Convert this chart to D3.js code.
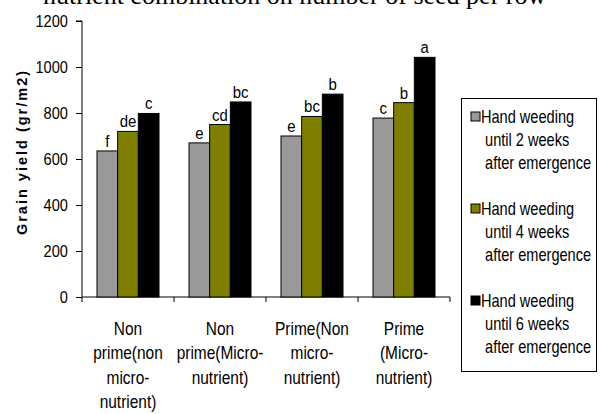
<!DOCTYPE html>
<html><head><meta charset="utf-8">
<script src="https://cdn.jsdelivr.net/npm/d3@7"></script>
<style>
body{margin:0;background:#fff;}
text{font-family:"Liberation Sans Narrow","Arial Narrow","Liberation Sans",Arial,sans-serif;}
</style></head>
<body><svg id="c" width="600" height="414"></svg>
<script>
const categories = [
  ["Non","prime(non","micro-","nutrient)"],
  ["Non","prime(Micro-","nutrient)"],
  ["Prime(Non","micro-","nutrient)"],
  ["Prime","(Micro-","nutrient)"]
];
const seriesNames = [
  ["Hand weeding","until 2 weeks","after emergence"],
  ["Hand weeding","until 4 weeks","after emergence"],
  ["Hand weeding","until 6 weeks","after emergence"]
];
const weeks2 = [635, 670, 700, 778];
const weeks4 = [720, 750, 785, 845];
const weeks6 = [798, 848, 882, 1042];
const letters2 = ["f","e","e","c"];
const letters4 = ["de","cd","bc","b"];
const letters6 = ["c","bc","b","a"];
const yTicks = [0,200,400,600,800,1000,1200];
const colors = ["#999999","#808000","#000000"];
const titleText = "nutrient combination on number of seed per row";

const series = [weeks2, weeks4, weeks6];
const letters = [letters2, letters4, letters6];

const svg = d3.select("#c");
const mLeft = 82, mRight = 450, mTop = 21, mBottom = 297;
const SX = 0.86;

svg.append("text").attr("x",43).attr("y",4)
  .style("font-family","'Liberation Serif','Times New Roman',serif")
  .style("font-size","26px").attr("fill","#000").text(titleText);

const x0 = d3.scaleBand().domain(d3.range(categories.length)).range([mLeft,mRight]).paddingInner(0).paddingOuter(0);
const x1 = d3.scaleBand().domain(d3.range(series.length)).range([15, x0.bandwidth()-15]);
const y = d3.scaleLinear().domain([0,1200]).range([mBottom,mTop]);

// y axis
const ya = svg.append("g").attr("transform",`translate(${mLeft},0)`)
  .call(d3.axisLeft(y).tickValues(yTicks).tickSize(6).tickPadding(6).tickFormat(d3.format("d")));
ya.select(".domain").attr("d",`M-6,${mTop}H0V${mBottom}`).attr("stroke","#000");
ya.selectAll(".tick line").attr("stroke","#000");
ya.selectAll("text").style("font-size","17px").attr("fill","#000")
  .attr("x",null).attr("transform",`translate(-14,0) scale(${SX},1)`);

// x axis
const xa = svg.append("g").attr("transform",`translate(0,${mBottom})`);
xa.append("line").attr("x1",mLeft).attr("x2",mRight).attr("y1",0).attr("y2",0).attr("stroke","#000");
const bounds = d3.range(categories.length+1).map(i => i<categories.length ? x0(i) : x0(i-1)+x0.bandwidth());
xa.selectAll("line.t").data(bounds).join("line").attr("class","t")
  .attr("x1",d=>d).attr("x2",d=>d).attr("y1",0).attr("y2",5).attr("stroke","#000");

// category labels
categories.forEach((lines,i)=>{
  const t = svg.append("text").attr("text-anchor","middle").style("font-size","18px").attr("fill","#000")
    .attr("transform",`translate(${x0(i)+x0.bandwidth()/2},0) scale(${SX},1)`);
  lines.forEach((l,j)=>{
    t.append("tspan").attr("x",0).attr("y",335+j*24.4).text(l);
  });
});

// bars
series.forEach((vals,s)=>{
  const g = svg.append("g");
  g.selectAll("rect").data(vals).join("rect")
    .attr("x",(d,i)=>x0(i)+x1(s)).attr("width",x1.bandwidth())
    .attr("y",d=>y(d)).attr("height",d=>mBottom-y(d))
    .attr("fill",colors[s]).attr("stroke","#000").attr("stroke-width",1);
  g.selectAll("text").data(vals).join("text")
    .attr("transform",(d,i)=>`translate(${x0(i)+x1(s)+x1.bandwidth()/2},${y(d)-4}) scale(0.88,1)`)
    .attr("text-anchor","middle").style("font-size","17px").attr("fill","#000")
    .text((d,i)=>letters[s][i]);
});

// y title
svg.append("text").attr("transform","translate(27,152) rotate(-90)")
  .attr("text-anchor","middle").style("font-size","14.5px").style("font-weight","bold")
  .style("font-family","'Liberation Sans',Arial,sans-serif").style("letter-spacing","2px")
  .attr("fill","#000").text("Grain yield (gr/m2)");

// legend
const lg = svg.append("g");
lg.append("rect").attr("x",461.5).attr("y",98.5).attr("width",135).attr("height",273)
  .attr("fill","#fff").attr("stroke","#000");
seriesNames.forEach((lines,s)=>{
  const by = 117 + s*92;
  lg.append("rect").attr("x",471).attr("y",by-5).attr("width",9).attr("height",9)
    .attr("fill",colors[s]).attr("stroke","#000");
  const t = lg.append("text").style("font-size","18px").attr("fill","#000")
    .attr("transform",`translate(481,0) scale(0.81,1)`);
  lines.forEach((l,j)=>{
    t.append("tspan").attr("x", j===0?0:5).attr("y",by+6+j*23).text(l);
  });
});
</script></body></html>
